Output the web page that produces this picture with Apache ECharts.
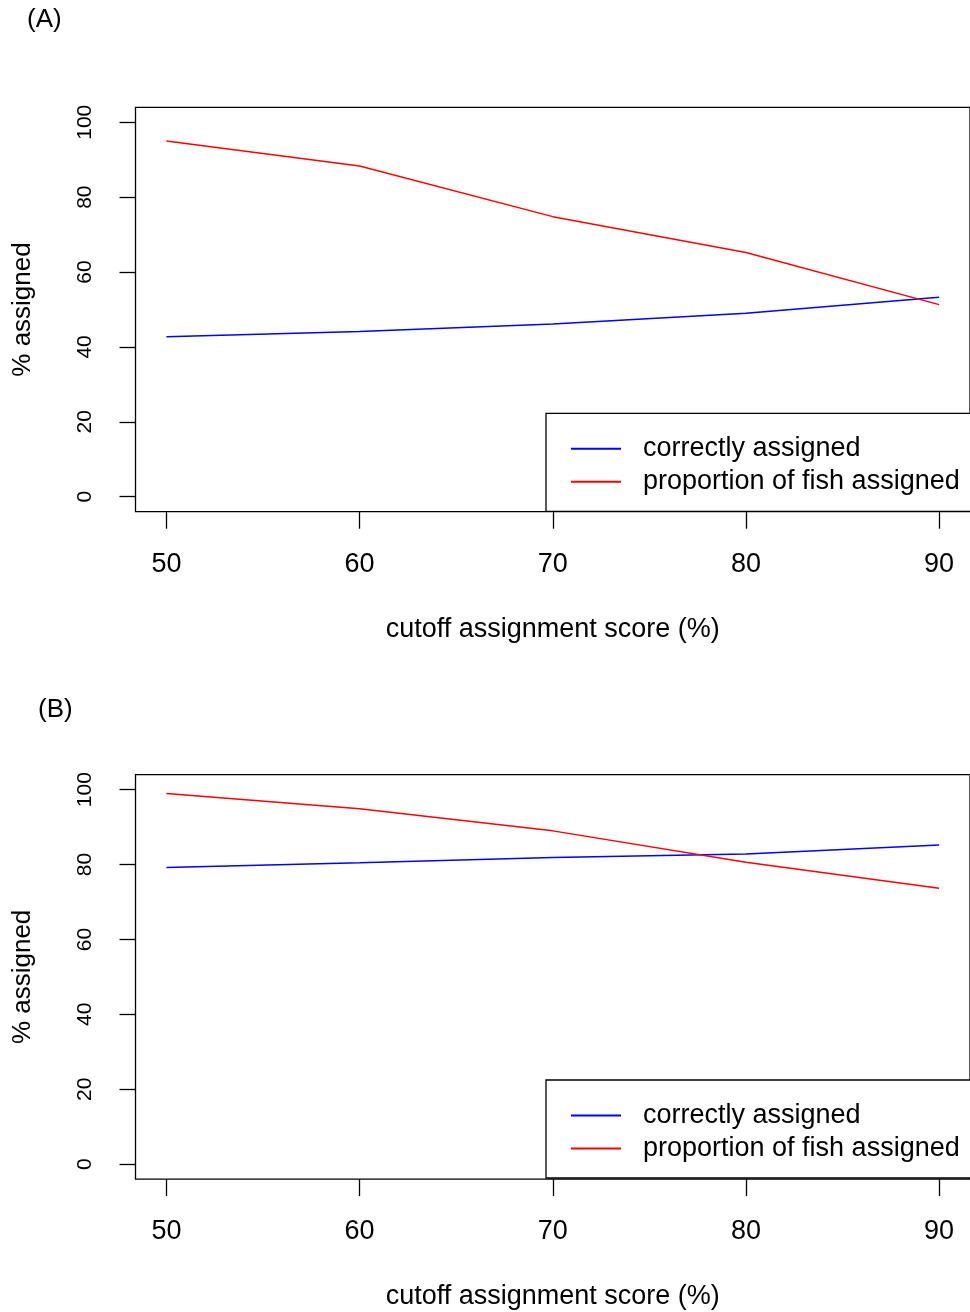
<!DOCTYPE html>
<html>
<head>
<meta charset="utf-8">
<script src="https://cdn.jsdelivr.net/npm/echarts@6/dist/echarts.min.js"></script>
<style>
  html, body { margin: 0; padding: 0; background: #fff; }
  #chart { width: 970px; height: 1312px; }
</style>
</head>
<body>
<div id="chart"></div>
<script>
// ---- data ----
var cutoffs = [50, 60, 70, 80, 90];
var panelA_correct = [42.7, 44.1, 46.1, 49.0, 53.3];
var panelA_proportion = [95.0, 88.3, 74.8, 65.2, 51.3];
var panelB_correct = [79.2, 80.5, 81.9, 82.8, 85.2];
var panelB_proportion = [99.0, 94.9, 89.0, 80.6, 73.7];
var xTickValues = [50, 60, 70, 80, 90];
var yTickValues = [0, 20, 40, 60, 80, 100];
var seriesNames = ['correctly assigned', 'proportion of fish assigned'];
var seriesColors = ['#0000FF', '#FF0000'];
var panelLabels = ['(A)', '(B)'];
var xTitle = 'cutoff assignment score (%)';
var yTitle = '% assigned';

var FONT = '"Liberation Sans", Arial, Helvetica, sans-serif';

function pairs(xs, ys) {
  return xs.map(function (x, i) { return [x, ys[i]]; });
}

var chart = echarts.init(document.getElementById('chart'), null, { renderer: 'canvas' });

var grids = [
  { left: 135.5, top: 107.3, width: 837, height: 404.4 },
  { left: 135.5, top: 774.7, width: 837, height: 404.4 }
];

function xAxisFor(idx) {
  return {
    type: 'value', gridIndex: idx, min: 48.4, max: 91.6, position: 'bottom',
    axisLine: { show: false, onZero: false },
    splitLine: { show: false },
    axisTick: { show: true, inside: false, length: 17, customValues: xTickValues, lineStyle: { color: '#000', width: 1.3 } },
    axisLabel: { customValues: xTickValues, fontSize: 27, color: '#000', fontFamily: FONT, margin: 39 },
    name: xTitle, nameLocation: 'middle', nameGap: 104,
    nameTextStyle: { fontSize: 27, color: '#000', fontFamily: FONT }
  };
}
function yAxisFor(idx) {
  return {
    type: 'value', gridIndex: idx, min: -4, max: 104, position: 'left',
    axisLine: { show: false, onZero: false },
    splitLine: { show: false },
    axisTick: { show: true, inside: false, length: 16, customValues: yTickValues, lineStyle: { color: '#000', width: 1.3 } },
    axisLabel: { customValues: yTickValues, rotate: 90, fontSize: 21, color: '#000', fontFamily: FONT, margin: 40 },
    name: yTitle, nameLocation: 'middle', nameGap: 100, nameRotate: 90,
    nameTextStyle: { fontSize: 26, color: '#000', fontFamily: FONT }
  };
}
function legendFor(top) {
  return {
    left: 546, top: top, orient: 'vertical',
    itemWidth: 50, itemHeight: 2, itemGap: 6,
    padding: [22, 15, 16, 25],
    borderColor: '#000', borderWidth: 1.3, backgroundColor: '#fff',
    selectedMode: false,
    textStyle: { fontSize: 27, color: '#000', fontFamily: FONT, padding: [0, 0, 0, 17] },
    data: seriesNames.map(function (n, i) {
      return { name: n, icon: 'rect', itemStyle: { color: seriesColors[i] } };
    })
  };
}
function lineSeries(name, data, color, idx) {
  return {
    type: 'line', name: name, xAxisIndex: idx, yAxisIndex: idx,
    data: data, symbol: 'none', smooth: false,
    lineStyle: { color: color, width: 1.5 },
    itemStyle: { color: color },
    emphasis: { disabled: true }, animation: false
  };
}

chart.setOption({
  backgroundColor: '#fff',
  animation: false,
  title: [
    { text: panelLabels[0], left: 22, top: 2, textStyle: { fontSize: 26, fontWeight: 'normal', color: '#000', fontFamily: FONT } },
    { text: panelLabels[1], left: 33, top: 692, textStyle: { fontSize: 26, fontWeight: 'normal', color: '#000', fontFamily: FONT } }
  ],
  grid: grids.map(function (g) {
    return Object.assign({ show: true, borderColor: '#000', borderWidth: 1.3, backgroundColor: 'transparent' }, g);
  }),
  xAxis: [xAxisFor(0), xAxisFor(1)],
  yAxis: [yAxisFor(0), yAxisFor(1)],
  legend: [legendFor(413.3), legendFor(1080)],
  series: [
    lineSeries(seriesNames[0], pairs(cutoffs, panelA_correct), seriesColors[0], 0),
    lineSeries(seriesNames[1], pairs(cutoffs, panelA_proportion), seriesColors[1], 0),
    lineSeries(seriesNames[0], pairs(cutoffs, panelB_correct), seriesColors[0], 1),
    lineSeries(seriesNames[1], pairs(cutoffs, panelB_proportion), seriesColors[1], 1)
  ]
});
</script>
</body>
</html>
